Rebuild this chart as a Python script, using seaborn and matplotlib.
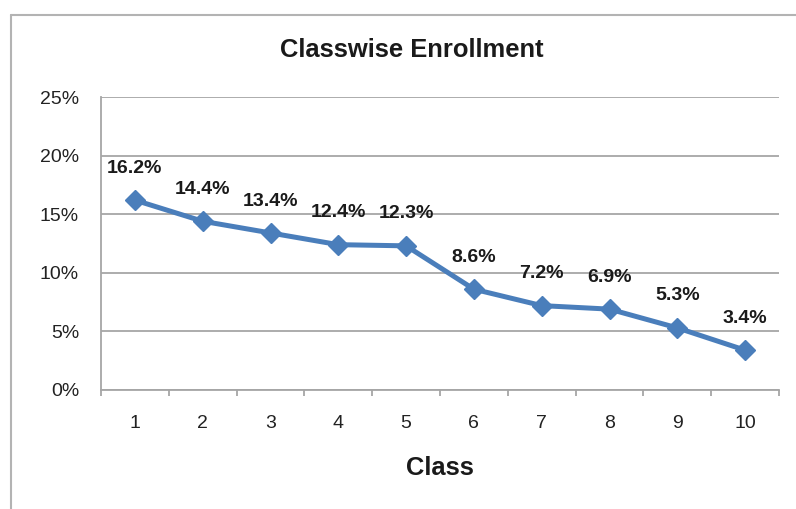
import numpy as np
import pandas as pd
import matplotlib
matplotlib.use("Agg")
import matplotlib.pyplot as plt
from matplotlib.lines import Line2D
from matplotlib.ticker import FixedLocator, FuncFormatter
import seaborn as sns

# data
classes = [1, 2, 3, 4, 5, 6, 7, 8, 9, 10]
enrollment_pct = [16.2, 14.4, 13.4, 12.4, 12.3, 8.6, 7.2, 6.9, 5.3, 3.4]
y_ticks = [0, 5, 10, 15, 20, 25]

sns.set_theme(style="white")
plt.rcParams["font.family"] = ["Liberation Sans", "DejaVu Sans"]

line_color = "#4a7ebb"
grid_color = "#a6a6a6"

df = pd.DataFrame({"Class": classes, "Enrollment": enrollment_pct})

fig = plt.figure(figsize=(7.96, 5.09), dpi=100)
ax = fig.add_axes([101 / 796, 1 - 390 / 509, (779 - 101) / 796, (390 - 97) / 509])

sns.lineplot(data=df, x="Class", y="Enrollment", ax=ax, color=line_color,
             linewidth=3.6, marker="D", markersize=10.5, markeredgecolor=line_color,
             markeredgewidth=1, zorder=3)

# data labels above each point
for xv, yv in zip(classes, enrollment_pct):
    ax.annotate(f"{yv:.1f}%", xy=(xv, yv), xytext=(0, 23), textcoords="offset points",
                ha="center", va="center", fontsize=14, fontweight="bold", color="#1a1a1a")

ax.set_xlim(0.5, 10.5)
ax.set_ylim(0, 25)
ax.set_yticks(y_ticks)
ax.yaxis.set_major_formatter(FuncFormatter(lambda v, p: f"{v:.0f}%"))
ax.set_xticks(classes)
ax.xaxis.set_minor_locator(FixedLocator(np.arange(0.5, 11, 1)))

ax.grid(axis="y", color=grid_color, linewidth=1.3)
ax.set_axisbelow(True)
for side in ["top", "right"]:
    ax.spines[side].set_visible(False)
for side in ["left", "bottom"]:
    ax.spines[side].set_color(grid_color)
    ax.spines[side].set_linewidth(1.3)

ax.tick_params(axis="y", which="major", direction="out", length=4.3, width=1.3,
               color=grid_color, pad=11.5, labelsize=14, labelcolor="#222222")
ax.tick_params(axis="x", which="major", length=0, pad=18, labelsize=14, labelcolor="#222222")
ax.tick_params(axis="x", which="minor", direction="out", length=4.3, width=1.3,
               color=grid_color, bottom=True)

ax.set_ylabel("")
ax.set_xlabel("Class", fontsize=18.4, fontweight="bold", color="#1a1a1a", va="center")
ax.xaxis.set_label_coords(0.5, (390 - 468) / 293)

fig.text(412 / 796, 1 - 50 / 509, "Classwise Enrollment", ha="center", va="center",
         fontsize=18.4, fontweight="bold", color="#1a1a1a")

# outer chart border (left and top edges visible in the crop)
border = "#b3b3b3"
fig.add_artist(Line2D([11 / 796, 11 / 796], [0, 1 - 15 / 509], color=border, linewidth=1.5,
                      transform=fig.transFigure))
fig.add_artist(Line2D([11 / 796, 1], [1 - 15 / 509, 1 - 15 / 509], color=border, linewidth=1.5,
                      transform=fig.transFigure))

fig.savefig("out.png", dpi=100)
